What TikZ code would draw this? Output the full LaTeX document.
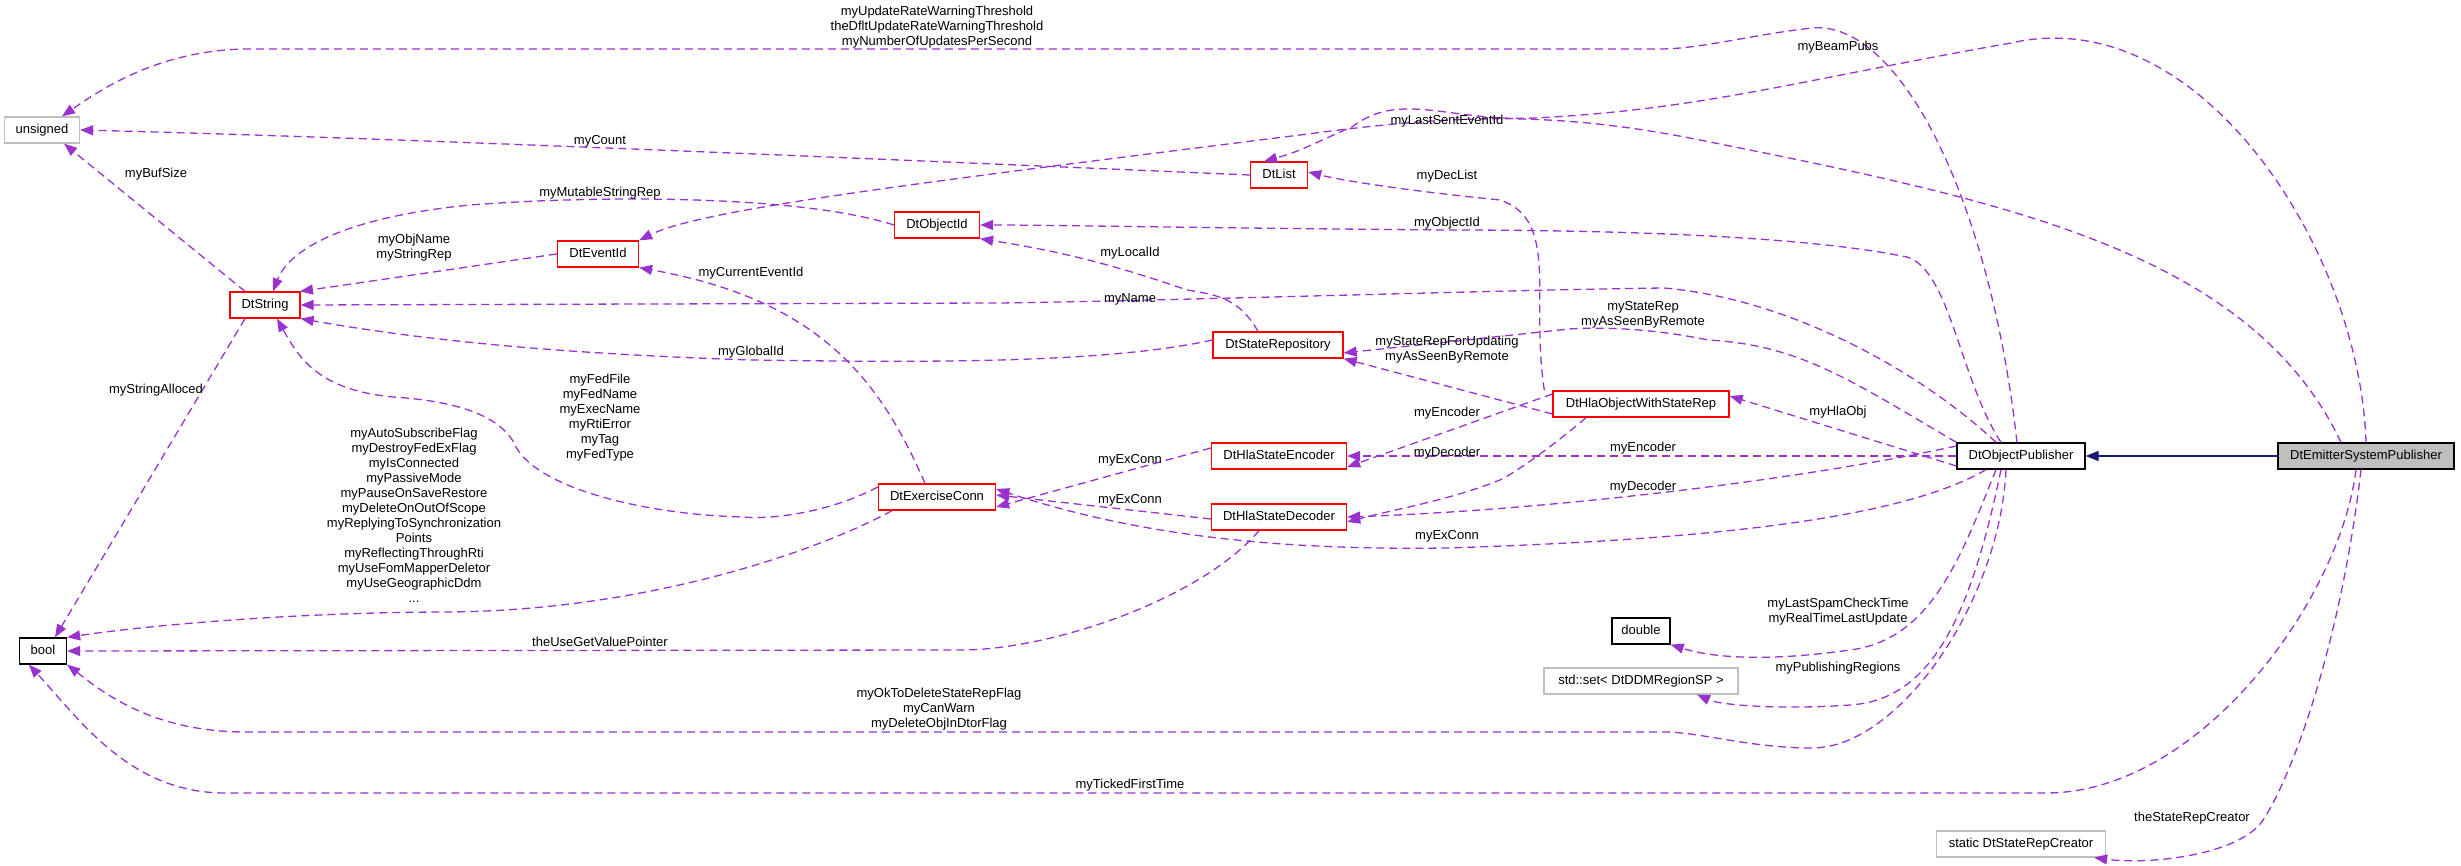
\documentclass[tikz,border=0pt]{standalone}
\usepackage{fontspec}
\setmainfont{Liberation Sans}
\usetikzlibrary{arrows.meta,calc}
\definecolor{edge}{HTML}{9A32CD}
\definecolor{inh}{HTML}{191970}
\begin{document}
\begin{tikzpicture}[x=1pt,y=-1pt,
  font=\fontsize{13}{15}\selectfont,
  box/.style={draw,line width=1.3pt,fill=white,minimum height=26pt,inner xsep=7pt,inner ysep=0pt,text height=10pt,text depth=3pt},
  red/.style={box,draw=red},
  gray/.style={box,draw=black!25},
  blk/.style={box,draw=black},
  rel/.style={draw=edge,line width=1.3pt,dash pattern=on 8pt off 5pt,-{Triangle[length=13pt,width=10pt]}},
  lab/.style={align=center,inner sep=0pt}]
\useasboundingbox (0,0) rectangle (2461,866);
% nodes
\node[gray,minimum width=75pt] (uns) at (42,130) {unsigned};
\node[red,minimum width=70pt] (str) at (265,305) {DtString};
\node[red,minimum width=81pt] (eid) at (598,254) {DtEventId};
\node[red,minimum width=85pt] (oid) at (937,225) {DtObjectId};
\node[red,minimum width=57pt] (lst) at (1279,175) {DtList};
\node[red,minimum width=130pt] (srp) at (1278,345) {DtStateRepository};
\node[red,minimum width=176pt] (how) at (1641,404) {DtHlaObjectWithStateRep};
\node[red,minimum width=135pt] (enc) at (1279,456) {DtHlaStateEncoder};
\node[red,minimum width=135pt] (dec) at (1279,517) {DtHlaStateDecoder};
\node[red,minimum width=117pt] (exc) at (937,497) {DtExerciseConn};
\node[blk,minimum width=47pt] (bool) at (43,651) {bool};
\node[blk,minimum width=58pt] (dbl) at (1641,631) {double};
\node[gray,minimum width=194pt] (set) at (1641,681) {std::set< DtDDMRegionSP >};
\node[gray,minimum width=169pt] (src) at (2021,844) {static DtStateRepCreator};
\node[blk,minimum width=128pt] (op) at (2021,456) {DtObjectPublisher};
\node[box,draw=black,fill=black!25,minimum width=176pt] (esp) at (2366,456) {DtEmitterSystemPublisher};
% edges
\draw[inh,line width=1.3pt,-{Triangle[length=13pt,width=10pt]}] (esp) -- (op);
\draw[rel] ([xshift=-4pt]op.north) .. controls (1990,200) and (1900,20) .. (1812,28) .. controls (1750,35) and (1700,49) .. (1660,49) -- (250,49) .. controls (160,49) and (100,90) .. ([xshift=20pt]uns.north);
\draw[rel] (lst.west) .. controls (900,160) and (400,138) .. (uns.east);
\draw[rel] ([xshift=-20pt]str.north) -- ([xshift=22pt]uns.south);
\draw[rel] (oid.west) .. controls (800,195) and (600,195) .. (470,205) .. controls (320,220) and (285,260) .. ([xshift=8pt]str.north);
\draw[rel] (eid.west) .. controls (480,265) and (380,280) .. ([xshift=35pt]str.north);
\draw[rel] ([xshift=-25pt]esp.north) .. controls (2250,250) and (2000,200) .. (1700,140) .. controls (1550,110) and (1450,115) .. (1300,135) .. controls (900,185) and (700,210) .. (eid.north east);
\draw[rel] ([xshift=0pt]esp.north) .. controls (2360,250) and (2200,0) .. (2011,43) .. controls (1800,80) and (1700,110) .. (1534,118) .. controls (1450,122) and (1400,90) .. (1352,127) .. controls (1320,140) and (1305,150) .. ([xshift=-15pt]lst.north);
\draw[rel] ([xshift=-20pt]op.north) .. controls (1960,380) and (1950,270) .. (1907,257) .. controls (1800,235) and (1600,230) .. (1447,230) .. controls (1200,228) and (1050,225) .. (oid.east);
\draw[rel] ([xshift=-20pt]srp.north) .. controls (1240,300) and (1220,295) .. (1187,290) .. controls (1100,260) and (1050,250) .. (oid.south east);
\draw[rel] ([xshift=-8pt]how.north west) .. controls (1530,300) and (1560,220) .. (1500,200) .. controls (1400,190) and (1340,180) .. ([yshift=3pt]lst.east);
\draw[rel] ([xshift=-25pt]op.north) .. controls (1930,380) and (1800,300) .. (1664,288) .. controls (1500,290) and (1200,300) .. (1000,303) -- (str.east);
\draw[rel] ([yshift=5pt]srp.west) .. controls (1100,365) and (900,362) .. (751,360) .. controls (600,355) and (450,345) .. (str.south east);
\draw[rel] (op.north west) .. controls (1850,380) and (1800,345) .. (1708,340) .. controls (1650,328) and (1600,327) .. (1569,329) -- ([yshift=-8pt]srp.east);
\draw[rel] ([yshift=-10pt]how.west) -- (srp.south east);
\draw[rel] ([yshift=-10pt]op.west) -- ([yshift=8pt]how.east);
\draw[rel] ([yshift=10pt]how.west) -- ([yshift=-11pt]enc.east);
\draw[rel] ([xshift=-55pt]how.south) .. controls (1560,440) and (1520,470) .. (1500,480) .. controls (1450,500) and (1400,508) .. ([yshift=-5pt]dec.east);
\draw[rel] (op.west) -- (enc.east);
\draw[rel] ([yshift=10pt]op.west) .. controls (1800,480) and (1550,510) .. (dec.east);
\draw[rel] ([xshift=-35pt]op.south) .. controls (1900,520) and (1700,540) .. (1447,548) .. controls (1300,550) and (1150,540) .. ([yshift=8pt]exc.east);
\draw[rel] ([yshift=8pt]enc.west) -- ([yshift=-10pt]exc.east);
\draw[rel] ([yshift=-2pt]dec.west) -- ([yshift=2pt]exc.east);
\draw[rel] ([xshift=-12pt]exc.north) .. controls (880,380) and (820,300) .. (eid.south east);
\draw[rel] ([yshift=10pt]exc.west) .. controls (820,517) and (760,519) .. (744,517) .. controls (650,515) and (540,490) .. (516,447) .. controls (500,410) and (440,400) .. (393,397) .. controls (320,390) and (300,360) .. ([xshift=12pt]str.south);
\draw[rel] ([xshift=-45pt]exc.south) .. controls (820,550) and (650,610) .. (450,612) .. controls (300,612) and (150,625) .. (bool.north east);
\draw[rel] ([xshift=-20pt]dec.south) .. controls (1200,600) and (1050,650) .. (961,650) -- (bool.east);
\draw[rel] ([xshift=-15pt]op.south) .. controls (2000,600) and (1900,748) .. (1812,748) .. controls (1750,748) and (1700,732) .. (1664,732) -- (246,732) .. controls (150,732) and (100,690) .. (bool.south east);
\draw[rel] ([xshift=-10pt]esp.south) .. controls (2340,600) and (2200,793) .. (2046,793) -- (225,793) .. controls (130,793) and (80,720) .. ([xshift=10pt]bool.south west);
\draw[rel] ([xshift=-20pt]str.south) -- ([xshift=12pt]bool.north);
\draw[rel] ([xshift=-25pt]op.south) .. controls (1960,560) and (1930,640) .. (1850,650) .. controls (1780,660) and (1720,660) .. (dbl.south east);
\draw[rel] ([xshift=-20pt]op.south) .. controls (1970,620) and (1930,700) .. (1850,705) .. controls (1780,710) and (1720,705) .. ([xshift=56pt]set.south);
\draw[rel] ([xshift=-5pt]esp.south) .. controls (2340,650) and (2290,780) .. (2263,820) .. controls (2240,855) and (2150,865) .. ([xshift=-12pt]src.south east);
% labels
\node[lab] at (937,27) {myUpdateRateWarningThreshold\\theDfltUpdateRateWarningThreshold\\myNumberOfUpdatesPerSecond};
\node[lab] at (600,141) {myCount};
\node[lab] at (156,174) {myBufSize};
\node[lab] at (600,193) {myMutableStringRep};
\node[lab] at (414,248) {myObjName\\myStringRep};
\node[lab] at (751,273) {myCurrentEventId};
\node[lab] at (751,352) {myGlobalId};
\node[lab] at (156,390) {myStringAlloced};
\node[lab] at (600,418) {myFedFile\\myFedName\\myExecName\\myRtiError\\myTag\\myFedType};
\node[lab] at (414,515) {myAutoSubscribeFlag\\myDestroyFedExFlag\\myIsConnected\\myPassiveMode\\myPauseOnSaveRestore\\myDeleteOnOutOfScope\\myReplyingToSynchronization\\Points\\myReflectingThroughRti\\myUseFomMapperDeletor\\myUseGeographicDdm\\...};
\node[lab] at (600,642) {theUseGetValuePointer};
\node[lab] at (939,709) {myOkToDeleteStateRepFlag\\myCanWarn\\myDeleteObjInDtorFlag};
\node[lab] at (1130,785) {myTickedFirstTime};
\node[lab] at (1838,47) {myBeamPubs};
\node[lab] at (1447,121) {myLastSentEventId};
\node[lab] at (1447,176) {myDecList};
\node[lab] at (1447,223) {myObjectId};
\node[lab] at (1130,253) {myLocalId};
\node[lab] at (1130,299) {myName};
\node[lab] at (1643,315) {myStateRep\\myAsSeenByRemote};
\node[lab] at (1447,350) {myStateRepForUpdating\\myAsSeenByRemote};
\node[lab] at (1838,412) {myHlaObj};
\node[lab] at (1447,413) {myEncoder};
\node[lab] at (1447,453) {myDecoder};
\node[lab] at (1643,448) {myEncoder};
\node[lab] at (1130,460) {myExConn};
\node[lab] at (1130,500) {myExConn};
\node[lab] at (1643,487) {myDecoder};
\node[lab] at (1447,536) {myExConn};
\node[lab] at (1838,612) {myLastSpamCheckTime\\myRealTimeLastUpdate};
\node[lab] at (1838,668) {myPublishingRegions};
\node[lab] at (2192,818) {theStateRepCreator};
\end{tikzpicture}
\end{document}
